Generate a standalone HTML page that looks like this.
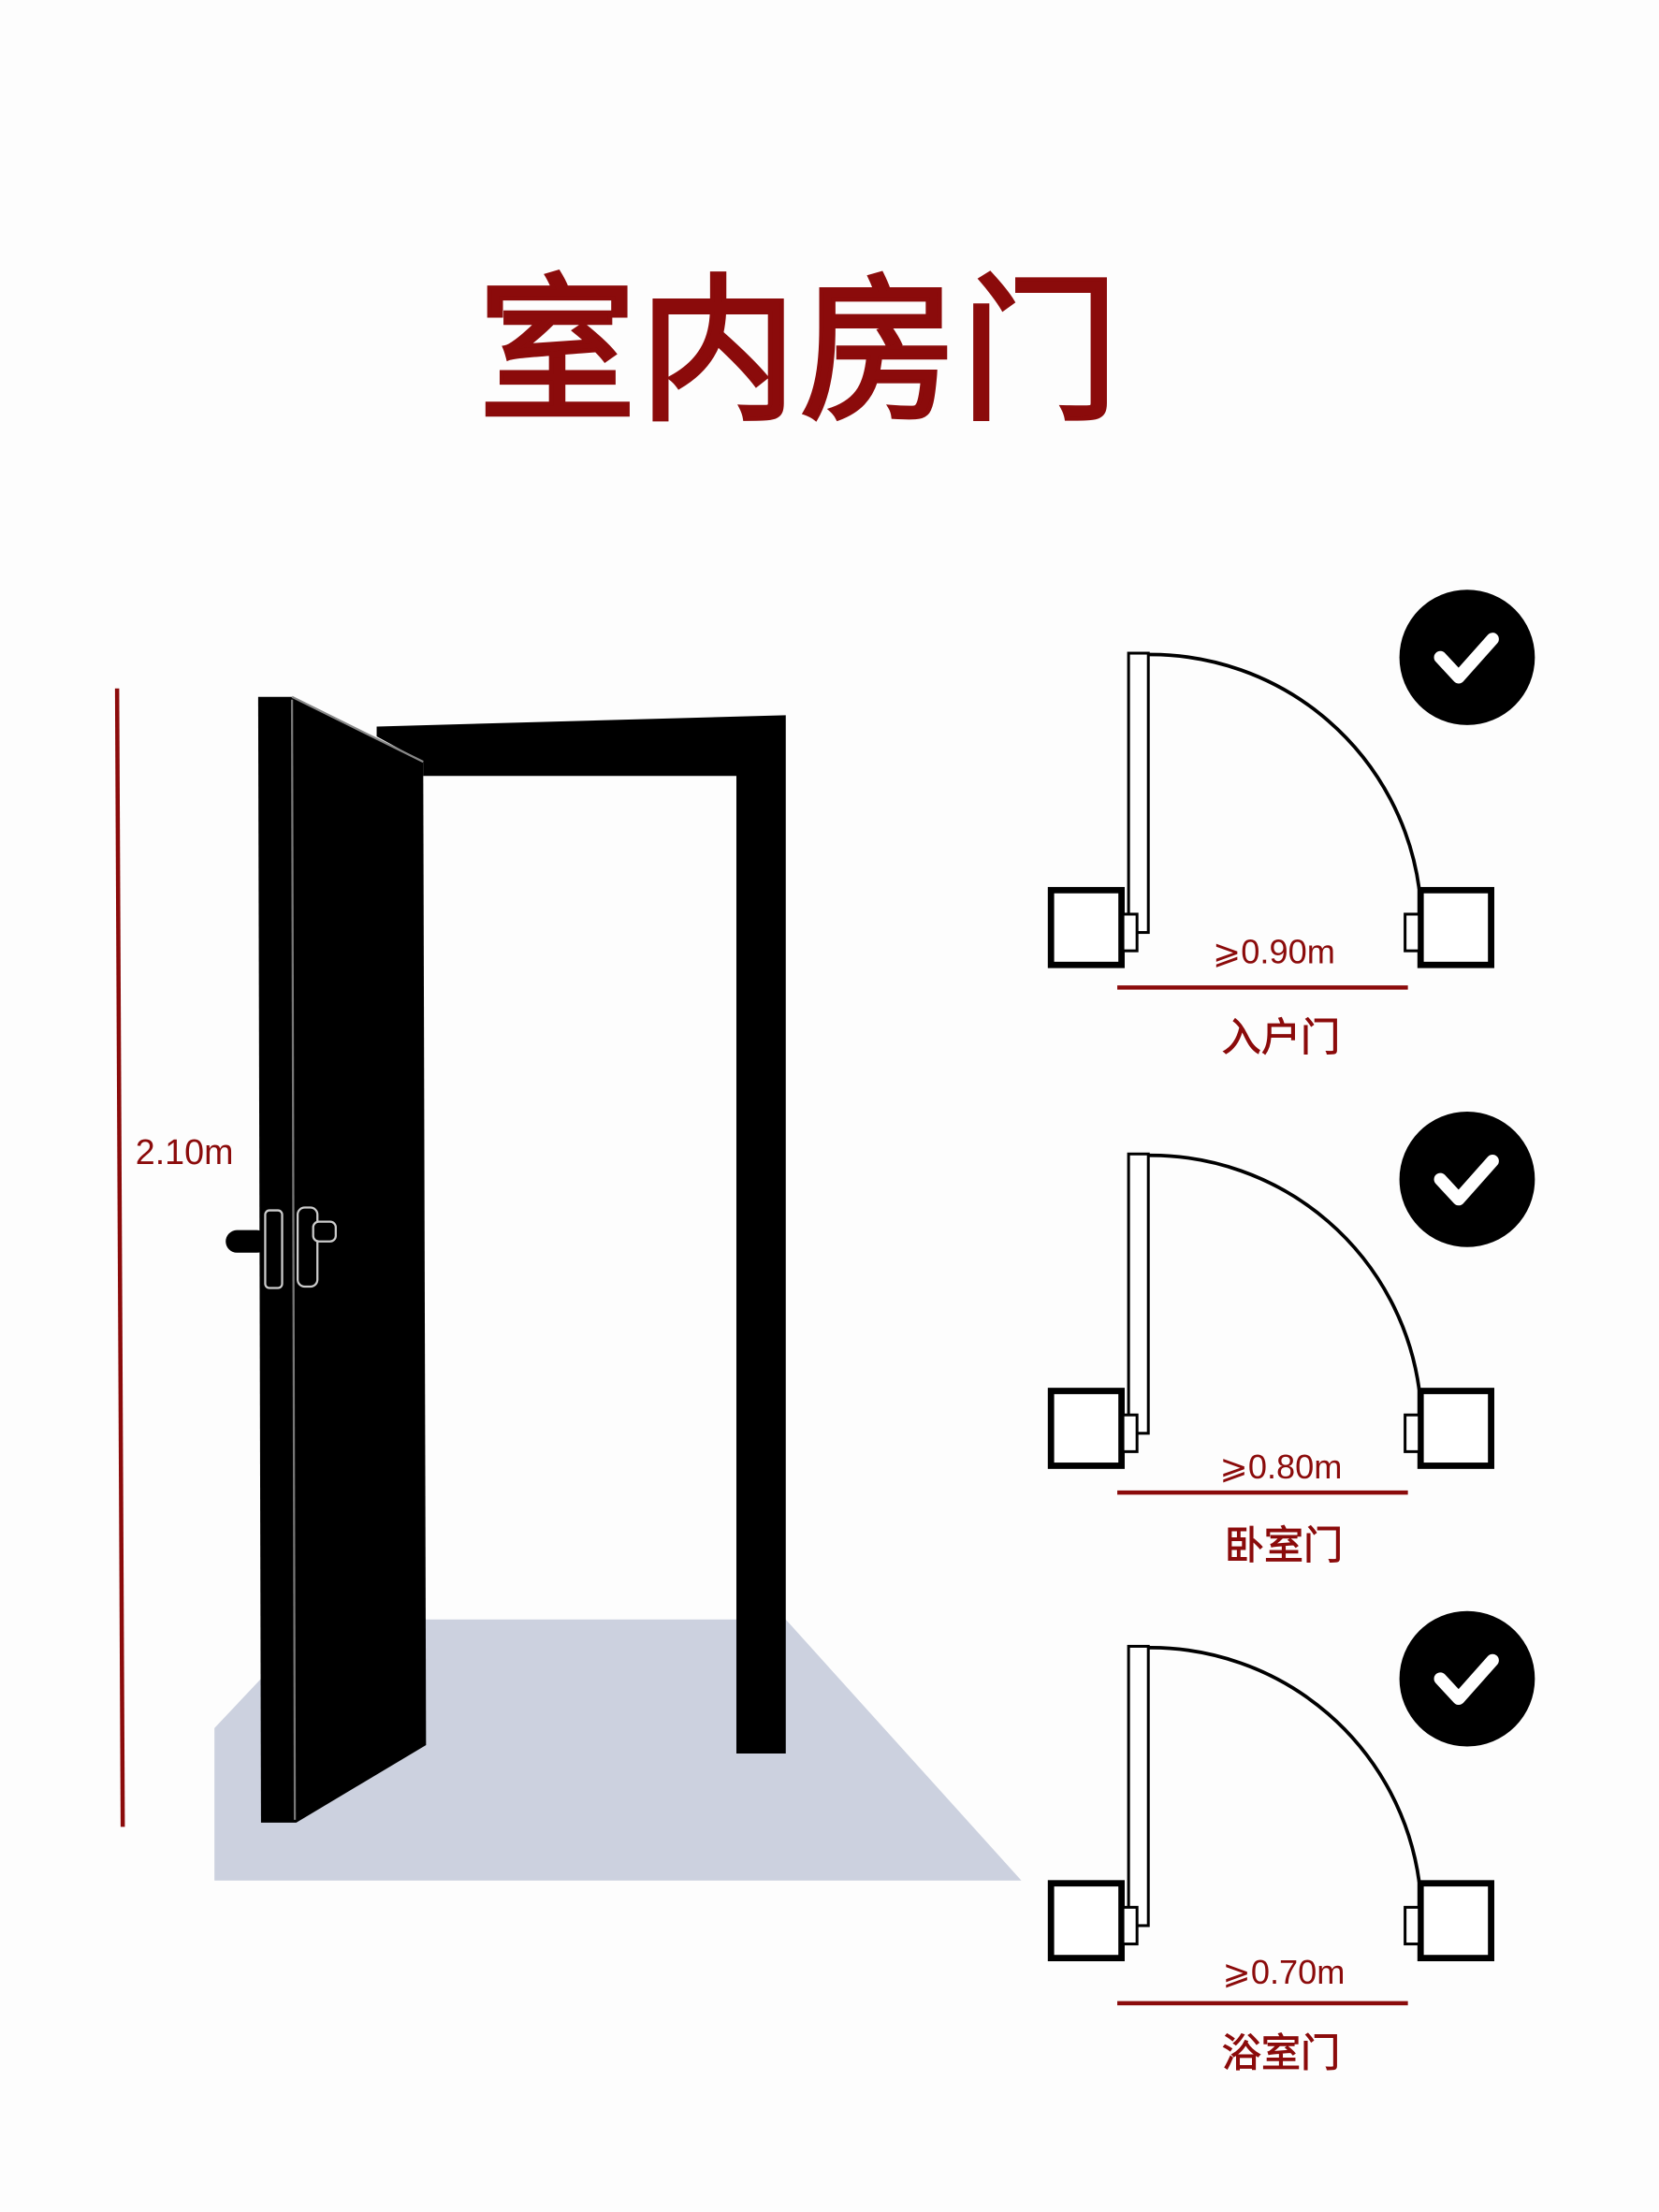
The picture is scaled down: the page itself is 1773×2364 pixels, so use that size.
<!DOCTYPE html>
<html><head><meta charset="utf-8"><style>
html,body{margin:0;padding:0;background:#fdfdfd;}
svg{display:block}
text{font-family:"Liberation Sans","Noto Sans CJK SC",sans-serif;}
</style></head><body>
<svg width="1773" height="2364" viewBox="0 0 1176 1568" xmlns="http://www.w3.org/2000/svg">
<rect width="1176" height="1568" fill="#fdfdfd"/>
<text x="567" y="288" text-anchor="middle" font-size="112" font-weight="normal" fill="#8b0b0b" stroke="#8b0b0b" stroke-width="3" font-family="Noto Sans CJK SC, sans-serif" letter-spacing="2">室内房门</text>

<line x1="83" y1="488" x2="87" y2="1295" stroke="#8b0b0b" stroke-width="3"/>
<text x="96" y="825" font-size="25" fill="#8b0b0b">2.10m</text>

<polygon points="152,1333 152,1225 185,1190 185,1148 557,1148 724,1333" fill="#ccd1df"/>

<path d="M267,515 L557,507 L557,1243 L522,1243 L522,550 L300,550 L300,540 L267,522 Z" fill="#000"/>
<polygon points="183,494 207,494 300,540 302,1237 210,1292 185,1292" fill="#000"/>
<line x1="207" y1="496" x2="209" y2="1290" stroke="#777" stroke-width="1.5"/>
<line x1="207" y1="494" x2="300" y2="540" stroke="#888" stroke-width="1.5"/>
<rect x="160" y="872" width="30" height="16" rx="8" fill="#000"/>
<rect x="188" y="858" width="12" height="55" rx="3" fill="#000" stroke="#ccc" stroke-width="1.5"/>
<rect x="211" y="856" width="14" height="56" rx="5" fill="#000" stroke="#ccc" stroke-width="1.5"/>
<rect x="222" y="866" width="16" height="14" rx="4" fill="#000" stroke="#ccc" stroke-width="1.5"/>

<g id="d1">
  <path d="M814,464 A192,192 0 0 1 1006,630" fill="none" stroke="#000" stroke-width="2.5"/>
  <rect x="800" y="463" width="14" height="198" fill="#fff" stroke="#000" stroke-width="2"/>
  <rect x="745" y="631" width="50" height="53" fill="#fff" stroke="#000" stroke-width="4.5"/>
  <rect x="796" y="648" width="10" height="26" fill="#fff" stroke="#000" stroke-width="2"/>
  <rect x="1007" y="631" width="50" height="53" fill="#fff" stroke="#000" stroke-width="4.5"/>
  <rect x="996" y="648" width="10" height="26" fill="#fff" stroke="#000" stroke-width="2"/>
</g>
<g id="ck">
  <circle cx="1040" cy="466" r="48" fill="#000"/>
  <polyline points="1021,466 1034,480 1058,453" fill="none" stroke="#fff" stroke-width="9" stroke-linecap="round" stroke-linejoin="round"/>
</g>
<line x1="792" y1="700" x2="998" y2="700" stroke="#8b0b0b" stroke-width="3"/>
<text x="903" y="683" text-anchor="middle" font-size="24" fill="#8b0b0b">⩾0.90m</text>
<text x="908" y="745" text-anchor="middle" font-size="28" fill="#8b0b0b" stroke="#8b0b0b" stroke-width="0.6">入户门</text>

<use href="#d1" transform="translate(0,355)"/>
<use href="#ck" transform="translate(0,370)"/>
<line x1="792" y1="1058" x2="998" y2="1058" stroke="#8b0b0b" stroke-width="3"/>
<text x="908" y="1048" text-anchor="middle" font-size="24" fill="#8b0b0b">⩾0.80m</text>
<text x="910" y="1105" text-anchor="middle" font-size="28" fill="#8b0b0b" stroke="#8b0b0b" stroke-width="0.6">卧室门</text>

<use href="#d1" transform="translate(0,704)"/>
<use href="#ck" transform="translate(0,724)"/>
<line x1="792" y1="1420" x2="998" y2="1420" stroke="#8b0b0b" stroke-width="3"/>
<text x="910" y="1406" text-anchor="middle" font-size="24" fill="#8b0b0b">⩾0.70m</text>
<text x="908" y="1465" text-anchor="middle" font-size="28" fill="#8b0b0b" stroke="#8b0b0b" stroke-width="0.6">浴室门</text>
</svg>
</body></html>
